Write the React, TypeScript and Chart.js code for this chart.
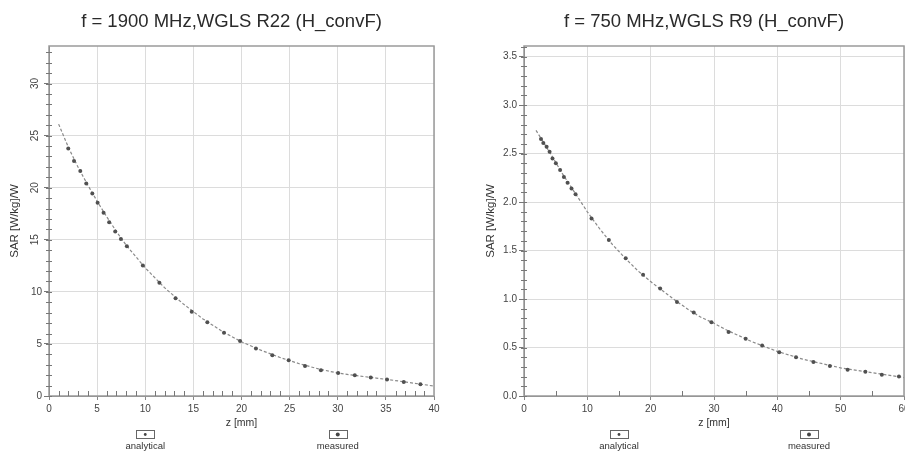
import React, { useEffect, useRef } from "react";
import { Chart, registerables } from "chart.js";

Chart.register(...registerables);

const FONT = '"Liberation Sans", Arial, sans-serif';

// ---------- texts ----------
const leftTitle = "f = 1900 MHz,WGLS R22 (H_convF)";
const rightTitle = "f = 750 MHz,WGLS R9 (H_convF)";
const yAxisTitle = "SAR [W/kg]/W";
const xAxisTitle = "z [mm]";
const seriesLabels = ["analytical", "measured"];

// ---------- left panel data (1900 MHz) ----------
const leftAnalyticalZ = [1, 2, 3, 4, 5, 6, 7, 8, 10, 12, 14, 16, 18, 20, 22, 24, 26, 28, 30, 32, 34, 36, 38, 40];
const leftAnalyticalSar = [26.1, 23.9, 22.0, 20.3, 18.7, 17.2, 15.8, 14.5, 12.3, 10.4, 8.8, 7.4, 6.2, 5.2, 4.4, 3.7, 3.1, 2.6, 2.2, 1.95, 1.72, 1.48, 1.22, 0.95];
const leftMeasuredZ = [2.0, 2.6, 3.25, 3.87, 4.5, 5.05, 5.67, 6.25, 6.88, 7.47, 8.09, 9.75, 11.47, 13.15, 14.83, 16.45, 18.18, 19.85, 21.5, 23.2, 24.9, 26.6, 28.25, 30.04, 31.77, 33.43, 35.12, 36.86, 38.59];
const leftMeasuredSar = [23.76, 22.57, 21.6, 20.4, 19.45, 18.55, 17.59, 16.68, 15.8, 15.08, 14.37, 12.54, 10.87, 9.39, 8.1, 7.08, 6.08, 5.27, 4.57, 3.92, 3.44, 2.89, 2.48, 2.22, 2.0, 1.77, 1.58, 1.35, 1.13];
const leftXTicks = { max: 40, step: 5, minorStep: 1 };
const leftYTicks = { max: 33.6, step: 5, minorStep: 1, decimals: 0, rotateFrom: 15 };

// ---------- right panel data (750 MHz) ----------
const rightAnalyticalZ = [1.9, 4, 6, 8, 10, 12, 14, 16, 18, 20, 22, 24, 26, 28, 30, 32, 34, 36, 38, 40, 42, 44, 46, 48, 50, 52, 54, 56, 58, 60];
const rightAnalyticalSar = [2.74, 2.52, 2.3, 2.1, 1.9, 1.72, 1.56, 1.42, 1.29, 1.18, 1.08, 0.98, 0.89, 0.81, 0.75, 0.68, 0.62, 0.56, 0.51, 0.46, 0.42, 0.38, 0.35, 0.32, 0.29, 0.27, 0.25, 0.23, 0.21, 0.19];
const rightMeasuredZ = [2.68, 3.05, 3.57, 4.04, 4.5, 5.03, 5.7, 6.3, 6.88, 7.5, 8.14, 10.66, 13.4, 16.06, 18.8, 21.5, 24.15, 26.8, 29.6, 32.3, 35.0, 37.6, 40.3, 42.95, 45.7, 48.3, 51.1, 53.9, 56.5, 59.2];
const rightMeasuredSar = [2.65, 2.61, 2.57, 2.52, 2.45, 2.4, 2.33, 2.26, 2.2, 2.14, 2.08, 1.83, 1.61, 1.42, 1.25, 1.11, 0.97, 0.86, 0.76, 0.66, 0.59, 0.52, 0.45, 0.4, 0.35, 0.31, 0.27, 0.25, 0.22, 0.2];
const rightXTicks = { max: 60, step: 10, minorStep: 5 };
const rightYTicks = { max: 3.61, step: 0.5, minorStep: 0.1, decimals: 1, rotateFrom: null as number | null };

const toPoints = (xs: number[], ys: number[]) => xs.map((x, i) => ({ x, y: ys[i] }));

const decorPlugin = {
  id: "sarDecor",
  afterDraw(chart: any, _args: any, opts: any) {
    const { ctx, chartArea: a, scales } = chart;
    const xs = scales.x;
    const ys = scales.y;
    ctx.save();

    // plot frame
    ctx.strokeStyle = "#9a9a9a";
    ctx.lineWidth = 1.5;
    ctx.strokeRect(a.left, a.top, a.right - a.left, a.bottom - a.top);

    // minor y ticks on the axis
    ctx.strokeStyle = "#777";
    ctx.lineWidth = 1;
    const ny = Math.floor(ys.max / opts.yMinorStep + 1e-6);
    for (let i = 0; i <= ny; i++) {
      const py = Math.round(ys.getPixelForValue(i * opts.yMinorStep)) + 0.5;
      ctx.beginPath();
      ctx.moveTo(a.left - 3, py);
      ctx.lineTo(a.left + 3, py);
      ctx.stroke();
    }

    // minor x ticks inside the plot
    const nx = Math.floor(xs.max / opts.xMinorStep + 1e-6);
    for (let i = 1; i < nx; i++) {
      const v = i * opts.xMinorStep;
      const r = v / opts.xStep;
      if (Math.abs(r - Math.round(r)) < 1e-6) continue;
      const px = Math.round(xs.getPixelForValue(v)) + 0.5;
      ctx.beginPath();
      ctx.moveTo(px, a.bottom);
      ctx.lineTo(px, a.bottom - 5);
      ctx.stroke();
    }

    // rotated y labels (as in the reference)
    if (opts.rotateFrom != null) {
      ctx.font = `10px ${FONT}`;
      ctx.fillStyle = "#444";
      ctx.textAlign = "center";
      ctx.textBaseline = "middle";
      ys.ticks.forEach((t: any) => {
        if (t.value >= opts.rotateFrom) {
          const py = ys.getPixelForValue(t.value);
          ctx.save();
          ctx.translate(a.left - 14, py);
          ctx.rotate(-Math.PI / 2);
          ctx.fillText(String(t.value), 0, 0);
          ctx.restore();
        }
      });
    }

    // title
    ctx.font = `18.5px ${FONT}`;
    ctx.fillStyle = "#2a2a2a";
    ctx.textAlign = "center";
    ctx.textBaseline = "alphabetic";
    ctx.fillText(opts.title, (a.left + a.right) / 2 - 10, 27);

    // legend: box with marker above label
    chart.data.datasets.forEach((ds: any, i: number) => {
      const cx = a.left + (a.right - a.left) * (0.25 + 0.5 * i);
      ctx.strokeStyle = "#666";
      ctx.lineWidth = 1;
      ctx.strokeRect(Math.round(cx - 9) + 0.5, 430.5, 18, 8);
      ctx.fillStyle = "#444";
      ctx.beginPath();
      ctx.arc(cx, 434.5, i === 0 ? 1.4 : 2, 0, Math.PI * 2);
      ctx.fill();
      ctx.font = `9.5px ${FONT}`;
      ctx.fillStyle = "#333";
      ctx.textAlign = "center";
      ctx.textBaseline = "middle";
      ctx.fillText(ds.label, cx, 446);
    });

    ctx.restore();
  },
};

type PanelProps = {
  title: string;
  xt: { max: number; step: number; minorStep: number };
  yt: { max: number; step: number; minorStep: number; decimals: number; rotateFrom: number | null };
  aZ: number[];
  aS: number[];
  mZ: number[];
  mS: number[];
  canvasWidth: number;
  left: number;
  yWidth: number;
  padRight: number;
  yTitlePad: number;
};

function SarPanel(p: PanelProps) {
  const ref = useRef<HTMLCanvasElement>(null);
  useEffect(() => {
    const chart = new Chart(ref.current as HTMLCanvasElement, {
      type: "scatter",
      data: {
        datasets: [
          {
            label: seriesLabels[0],
            data: toPoints(p.aZ, p.aS),
            showLine: true,
            borderColor: "#8a8a8a",
            borderWidth: 1.2,
            borderDash: [3, 2],
            pointRadius: 0,
            order: 1,
          } as any,
          {
            label: seriesLabels[1],
            data: toPoints(p.mZ, p.mS),
            showLine: false,
            backgroundColor: "#505050",
            borderWidth: 0,
            pointRadius: 2,
            order: 0,
          } as any,
        ],
      },
      options: {
        animation: false,
        responsive: false,
        layout: { padding: { left: 0, top: 46, right: p.padRight, bottom: 0 } },
        plugins: {
          legend: { display: false },
          tooltip: { enabled: false },
          title: { display: false },
          sarDecor: { title: p.title, xStep: p.xt.step, xMinorStep: p.xt.minorStep, yMinorStep: p.yt.minorStep, rotateFrom: p.yt.rotateFrom },
        } as any,
        scales: {
          x: {
            type: "linear",
            min: 0,
            max: p.xt.max,
            afterFit: (s: any) => {
              s.height = 62;
              s.paddingLeft = 0;
              s.paddingRight = 0;
            },
            ticks: {
              stepSize: p.xt.step,
              includeBounds: false,
              maxRotation: 0,
              autoSkip: false,
              padding: 3,
              color: "#444",
              font: { family: FONT, size: 10 },
            },
            grid: { color: "#dcdcdc", tickColor: "#888", tickLength: 4 },
            border: { display: true, color: "#888", width: 1 },
            title: {
              display: true,
              text: xAxisTitle,
              color: "#333",
              font: { family: FONT, size: 10.5 },
              padding: { top: 0, bottom: 29 },
            },
          },
          y: {
            type: "linear",
            min: 0,
            max: p.yt.max,
            afterFit: (s: any) => {
              s.width = p.yWidth;
            },
            ticks: {
              stepSize: p.yt.step,
              includeBounds: false,
              autoSkip: false,
              padding: 2,
              color: "#444",
              font: { family: FONT, size: 10 },
              callback: (v: any) =>
                p.yt.rotateFrom != null && v >= p.yt.rotateFrom ? "" : Number(v).toFixed(p.yt.decimals),
            },
            grid: { color: "#dcdcdc", tickColor: "#777", tickLength: 5 },
            border: { display: true, color: "#777", width: 1 },
            title: {
              display: true,
              text: yAxisTitle,
              color: "#333",
              font: { family: FONT, size: 11.5 },
              padding: { top: p.yTitlePad, bottom: 0 },
            },
          },
        },
      } as any,
      plugins: [decorPlugin as any],
    });
    return () => chart.destroy();
  }, []);
  return (
    <canvas
      ref={ref}
      width={p.canvasWidth}
      height={458}
      style={{ position: "absolute", left: p.left, top: 0, width: p.canvasWidth, height: 458 }}
    />
  );
}

export default function App() {
  return (
    <div
      style={{
        position: "fixed",
        left: 0,
        top: 0,
        width: 905,
        height: 458,
        overflow: "hidden",
        background: "#ffffff",
      }}
    >
      <SarPanel
        title={leftTitle}
        xt={leftXTicks}
        yt={leftYTicks}
        aZ={leftAnalyticalZ}
        aS={leftAnalyticalSar}
        mZ={leftMeasuredZ}
        mS={leftMeasuredSar}
        canvasWidth={452}
        left={0}
        yWidth={49}
        padRight={18}
        yTitlePad={8}
      />
      <SarPanel
        title={rightTitle}
        xt={rightXTicks}
        yt={rightYTicks}
        aZ={rightAnalyticalZ}
        aS={rightAnalyticalSar}
        mZ={rightMeasuredZ}
        mS={rightMeasuredSar}
        canvasWidth={480}
        left={452}
        yWidth={72}
        padRight={28}
        yTitlePad={31.5}
      />
    </div>
  );
}
